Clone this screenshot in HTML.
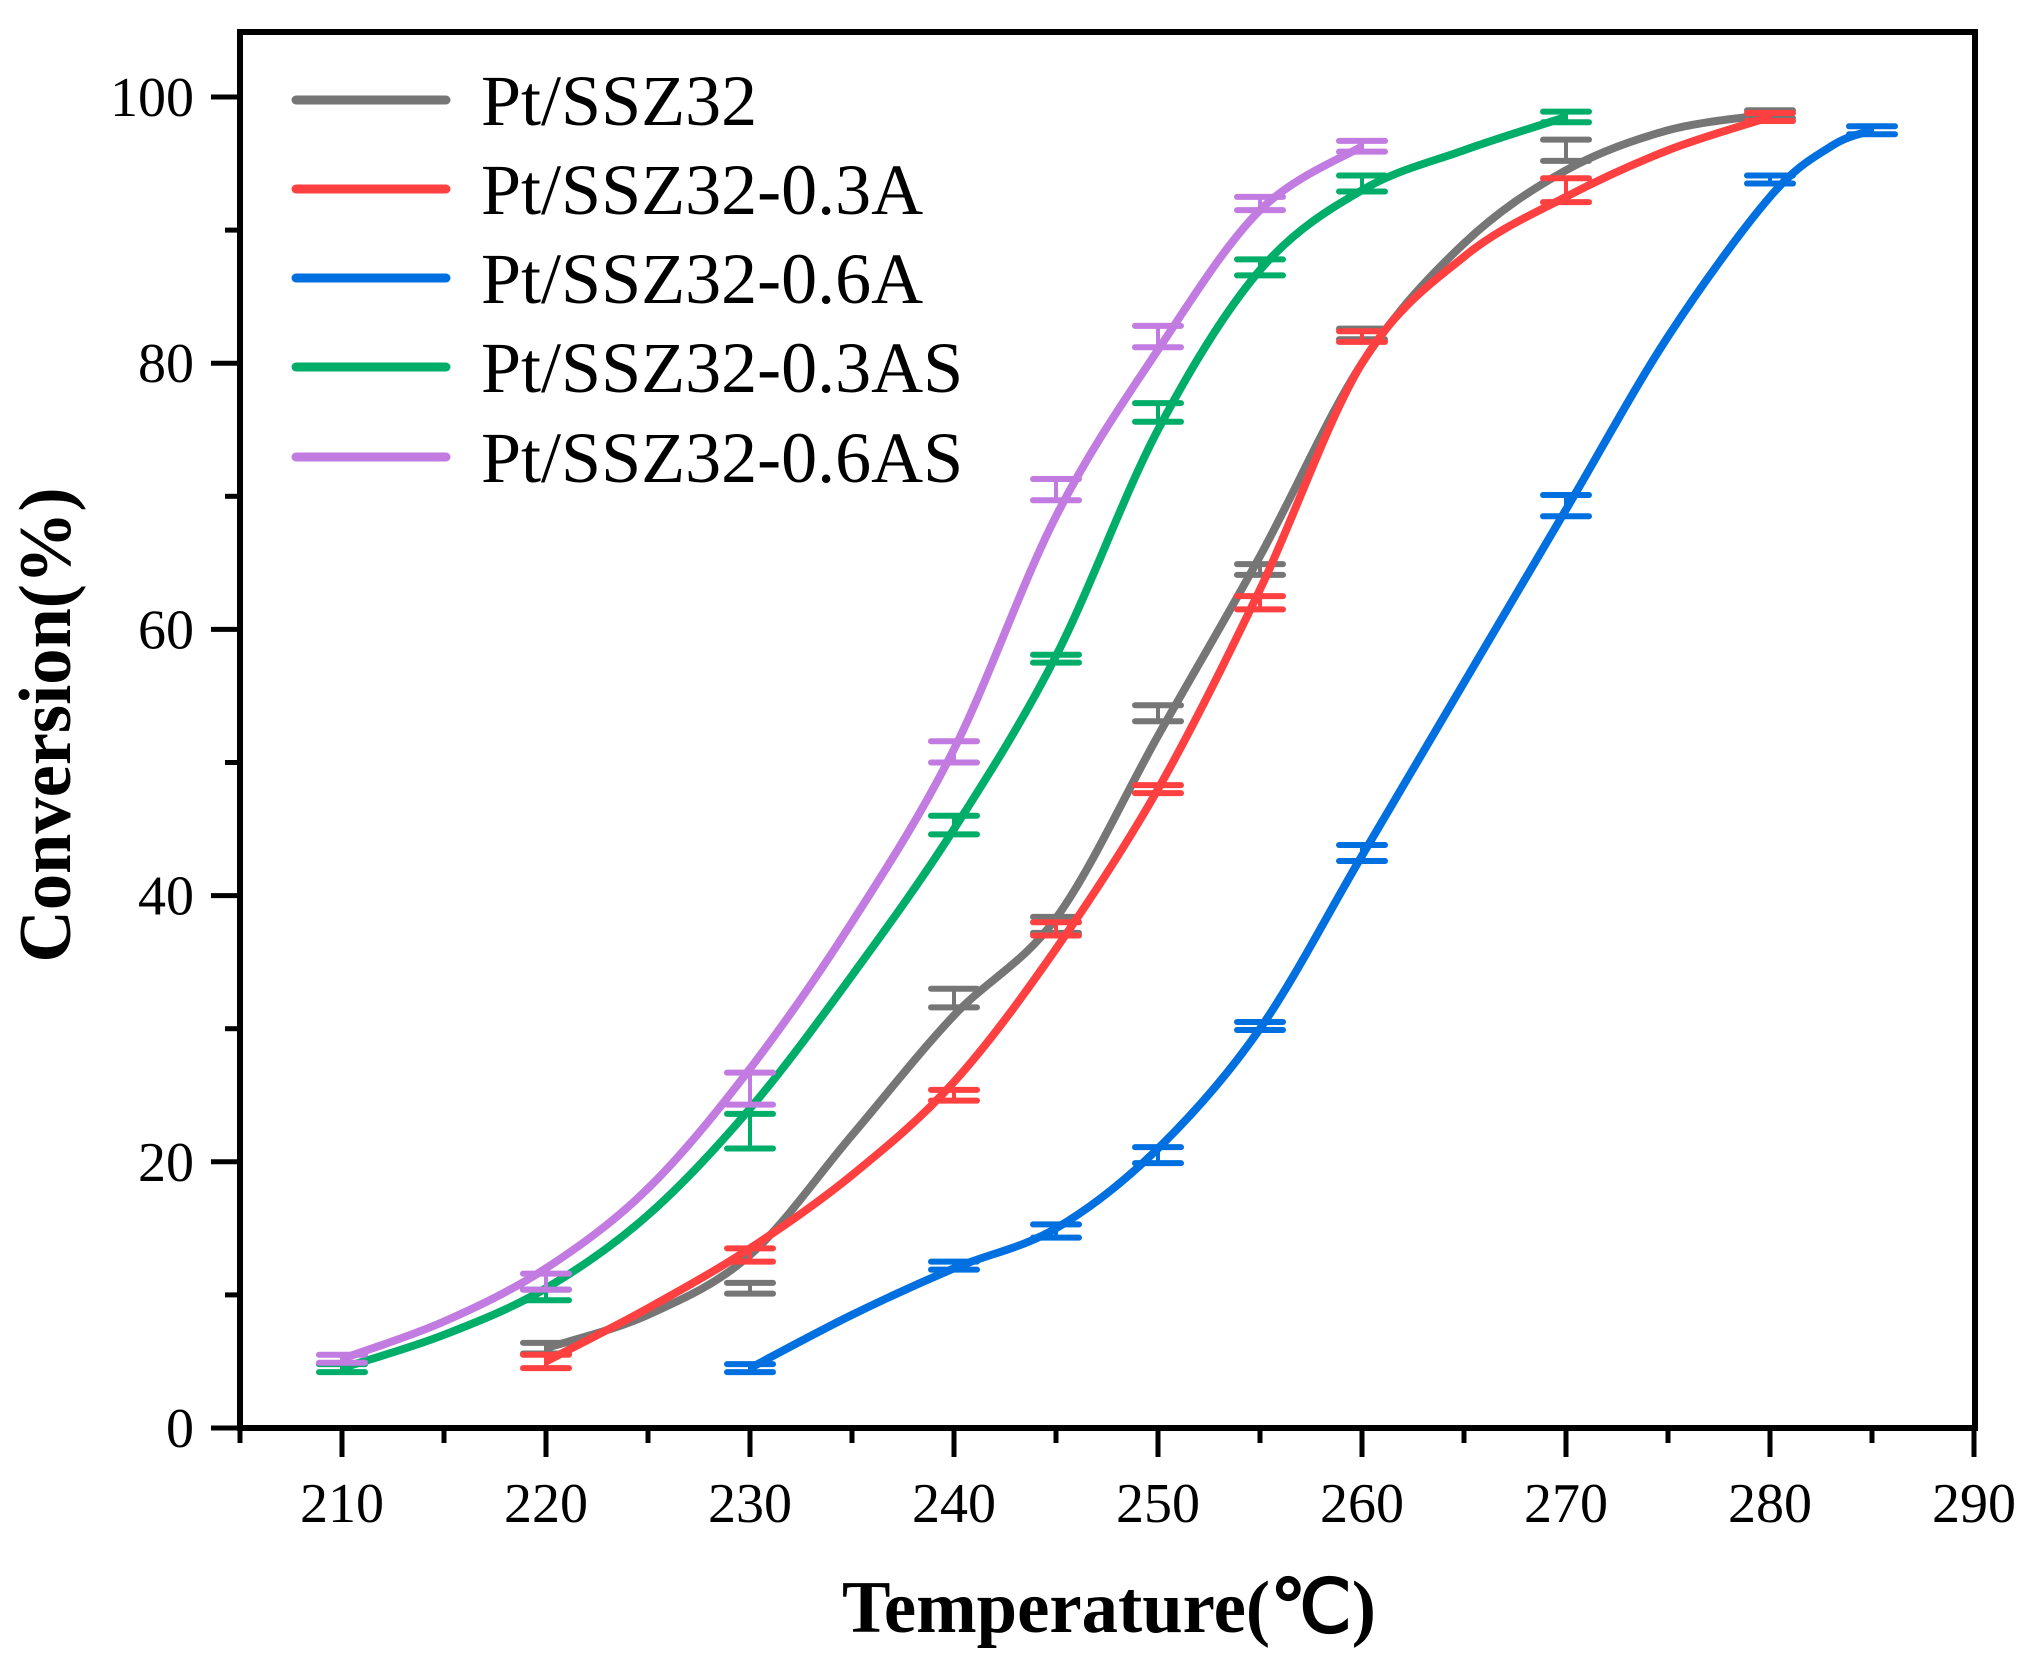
<!DOCTYPE html>
<html><head><meta charset="utf-8"><style>body{margin:0;background:#fff}svg{display:block}</style></head>
<body>
<svg id="s" width="2029" height="1672" viewBox="0 0 2029 1672" xmlns="http://www.w3.org/2000/svg" font-family="'Liberation Serif', serif">
<rect width="2029" height="1672" fill="#fff"/>
<g id="plot"></g>
<rect x="240" y="32" width="1735" height="1396" fill="none" stroke="#000" stroke-width="6"/>
<g id="ticks" stroke="#000" stroke-width="5"></g>
<g id="labels" font-size="56" fill="#000"></g>
<text x="1109" y="1632" font-size="74" font-weight="bold" text-anchor="middle" textLength="534" lengthAdjust="spacingAndGlyphs">Temperature(℃)</text>
<text transform="translate(70,725) rotate(-90)" font-size="74" font-weight="bold" text-anchor="middle" textLength="475" lengthAdjust="spacingAndGlyphs">Conversion(%)</text>
<g id="legend" font-size="72"></g>
</svg>
<script>
const X=t=>240+(t-205)*20.4, Y=v=>1428-v*13.31;
const ns="http://www.w3.org/2000/svg";
function el(p,tag,a,txt){const e=document.createElementNS(ns,tag);for(const k in a)e.setAttribute(k,a[k]);if(txt!=null)e.textContent=txt;document.getElementById(p).appendChild(e);return e;}
const series=[
["#767676","Pt/SSZ32",[[220,6,0.4],[230,10.5,0.4],[240,32.3,0.7],[245,37.8,0.6],[250,53.7,0.6],[255,64.5,0.4],[260,82.2,0.4],[270,96,0.8],[280,98.7,0.3]],
 [[220,6],[225,8.5],[230,13],[235,22],[240,31],[245,38.3],[250,52],[255,65.5],[260,80],[265,89],[270,94.5],[275,97.5],[280,98.7]]],
["#ff4040","Pt/SSZ32-0.3A",[[220,5,0.5],[230,13,0.5],[240,25,0.4],[245,37.5,0.5],[250,48,0.3],[255,62,0.5],[260,82,0.4],[270,93,0.9],[280,98.5,0.3]],
 [[220,5],[225,9],[230,13.5],[235,19],[240,26],[245,36],[250,48],[255,63],[260,80],[265,88],[270,92.5],[275,96],[280,98.5]]],
["#0070e0","Pt/SSZ32-0.6A",[[230,4.5,0.3],[240,12.2,0.3],[245,14.8,0.5],[250,20.5,0.6],[255,30.2,0.3],[260,43.2,0.6],[270,69.3,0.8],[280,93.8,0.3],[285,97.5,0.3]],
 [[230,4.5],[235,8.5],[240,12],[245,15],[250,21],[255,30],[260,43],[265,56],[270,69],[275,82],[280,92.5],[283,96.3],[285,97.5]]],
["#00ae6a","Pt/SSZ32-0.3AS",[[210,4.5,0.3],[220,10,0.4],[230,22.3,1.3],[240,45.3,0.7],[245,57.8,0.3],[250,76.3,0.7],[255,87.2,0.6],[260,93.5,0.6],[270,98.5,0.4]],
 [[210,4.5],[215,7],[220,10.5],[225,16],[230,24],[235,34],[240,45],[245,58],[250,75],[255,87],[260,93],[265,96],[270,98.5]]],
["#c27be0","Pt/SSZ32-0.6AS",[[210,5.2,0.3],[220,11,0.6],[230,25.5,1.2],[240,50.8,0.8],[245,70.5,0.8],[250,82,0.8],[255,92,0.5],[260,96.3,0.4]],
 [[210,5.2],[215,8],[220,12],[225,18],[230,27],[235,38],[240,51],[245,68.5],[250,81],[255,91.5],[260,96.3]]]
];
series.forEach((s,i)=>{
 const p=s[3].map(d=>[X(d[0]),Y(d[1])]);
 let d=`M${p[0][0]},${p[0][1]}`;
 for(let k=0;k<p.length-1;k++){
  const p0=p[k-1]||p[k],p1=p[k],p2=p[k+1],p3=p[k+2]||p2;
  const c1=[p1[0]+(p2[0]-p0[0])/6,p1[1]+(p2[1]-p0[1])/6],c2=[p2[0]-(p3[0]-p1[0])/6,p2[1]-(p3[1]-p1[1])/6];
  d+=` C${c1[0]},${c1[1]} ${c2[0]},${c2[1]} ${p2[0]},${p2[1]}`;
 }
 el("plot","path",{d,fill:"none",stroke:s[0],"stroke-width":8,"stroke-linejoin":"round"});
 s[2].forEach(q=>{const x=X(q[0]),y1=Y(q[1]+q[2]),y2=Y(q[1]-q[2]);
  el("plot","line",{x1:x,x2:x,y1:y1,y2:y2,stroke:s[0],"stroke-width":4});
  [y1,y2].forEach(y=>el("plot","line",{x1:x-23,x2:x+23,y1:y,y2:y,stroke:s[0],"stroke-width":6,"stroke-linecap":"round"}));
 });
 const ly=[100,189,278,367,457][i];
 el("legend","line",{x1:296,x2:446,y1:ly,y2:ly,stroke:s[0],"stroke-width":9,"stroke-linecap":"round"});
 el("legend","text",{x:481,y:ly+25},s[1]);
});
for(let t=205;t<=290;t+=5){const maj=t%10==0;el("ticks","line",{x1:X(t),x2:X(t),y1:1428,y2:1428+(maj?29:15)});
 if(maj)el("labels","text",{x:X(t),y:1522,"text-anchor":"middle"},t);}
for(let v=0;v<=100;v+=10){const maj=v%20==0;el("ticks","line",{x1:240,x2:240-(maj?29:15),y1:Y(v),y2:Y(v)});
 if(maj)el("labels","text",{x:194,y:Y(v)+19,"text-anchor":"end"},v);}
</script>
</body></html>
